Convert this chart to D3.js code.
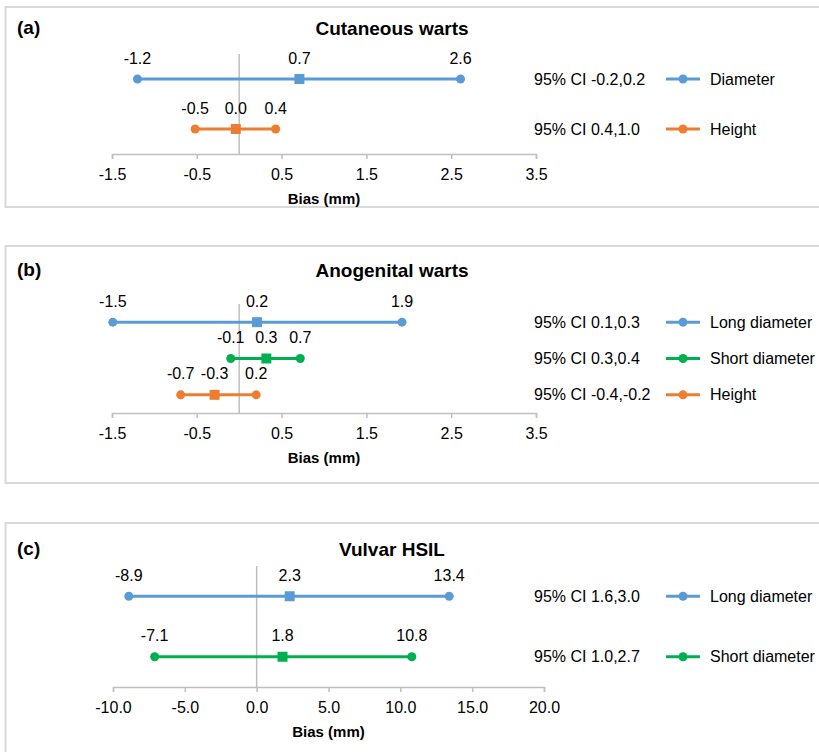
<!DOCTYPE html>
<html>
<head>
<meta charset="utf-8">
<script src="https://cdn.jsdelivr.net/npm/d3@7"></script>
<style>
  body { margin: 0; background: #fff; }
  text { font-family: "Liberation Sans", Arial, Helvetica, sans-serif; }
</style>
</head>
<body>
<div id="chart"></div>
<script>
// ---- data ----
const letters = ["(a)", "(b)", "(c)"];
const titles = ["Cutaneous warts", "Anogenital warts", "Vulvar HSIL"];

const seriesA = ["Diameter", "Height"];
const lowA = [-1.2, -0.52];
const meanA = [0.71, -0.04];
const highA = [2.61, 0.43];
const ciA = ["95% CI -0.2,0.2", "95% CI 0.4,1.0"];

const seriesB = ["Long diameter", "Short diameter", "Height"];
const lowB = [-1.49, -0.1, -0.69];
const meanB = [0.21, 0.32, -0.29];
const highB = [1.92, 0.72, 0.2];
const ciB = ["95% CI 0.1,0.3", "95% CI 0.3,0.4", "95% CI -0.4,-0.2"];

const seriesC = ["Long diameter", "Short diameter"];
const lowC = [-8.9, -7.1];
const meanC = [2.3, 1.8];
const highC = [13.4, 10.8];
const ciC = ["95% CI 1.6,3.0", "95% CI 1.0,2.7"];

const ticksAB = [-1.5, -0.5, 0.5, 1.5, 2.5, 3.5];
const ticksC = [-10, -5, 0, 5, 10, 15, 20];
const axisTitle = "Bias (mm)";

const colors = { "Diameter": "#5b9bd5", "Long diameter": "#5b9bd5", "Short diameter": "#00b050", "Height": "#ed7d31" };

// ---- layout ----
const width = 819, height = 752;
const fmt = d3.formatLocale({ decimal: ".", thousands: ",", grouping: [3], currency: ["", ""], minus: "-" }).format(".1f");

const panels = [
  { top: 7, bottom: 207, titleY: 27, plotTop: 54, axisY: 154, x0: 112, x1: 536, ticks: ticksAB,
    series: seriesA, low: lowA, mean: meanA, high: highA, ci: ciA },
  { top: 246, bottom: 483, titleY: 269, plotTop: 304, axisY: 413, x0: 112, x1: 536, ticks: ticksAB,
    series: seriesB, low: lowB, mean: meanB, high: highB, ci: ciB },
  { top: 523, bottom: 800, titleY: 548, plotTop: 566, axisY: 687, x0: 113, x1: 544, ticks: ticksC,
    series: seriesC, low: lowC, mean: meanC, high: highC, ci: ciC }
];

const svg = d3.select("#chart").append("svg")
  .attr("width", width)
  .attr("height", height)
  .style("display", "block");

svg.append("rect").attr("width", width).attr("height", height).attr("fill", "#fff");

panels.forEach((p, k) => {
  const g = svg.append("g");

  // panel frame
  g.append("rect")
    .attr("x", 5.5).attr("y", p.top)
    .attr("width", 840).attr("height", p.bottom - p.top)
    .attr("fill", "none").attr("stroke", "#d9d9d9").attr("stroke-width", 2);

  g.append("text")
    .attr("x", 17).attr("y", p.titleY)
    .attr("dominant-baseline", "central")
    .style("font-size", "19px").style("font-weight", "bold")
    .text(letters[k]);

  g.append("text")
    .attr("x", 392).attr("y", p.titleY + 1)
    .attr("dominant-baseline", "central")
    .attr("text-anchor", "middle")
    .style("font-size", "19px").style("font-weight", "bold")
    .text(titles[k]);

  const x = d3.scaleLinear()
    .domain([p.ticks[0], p.ticks[p.ticks.length - 1]])
    .range([p.x0, p.x1]);

  const y = d3.scaleBand()
    .domain(p.series)
    .range([p.plotTop, p.axisY]);
  const yc = s => y(s) + y.bandwidth() / 2;

  // zero line
  g.append("line")
    .attr("x1", x(0)).attr("x2", x(0))
    .attr("y1", p.plotTop).attr("y2", p.axisY)
    .attr("stroke", "#bfbfbf").attr("stroke-width", 1.5);

  // x axis
  const ax = g.append("g")
    .attr("transform", "translate(0," + p.axisY + ")")
    .call(d3.axisBottom(x).tickValues(p.ticks).tickSize(5).tickPadding(10).tickFormat(fmt));
  ax.select(".domain").attr("stroke", "#bfbfbf").attr("stroke-width", 1.5);
  ax.selectAll(".tick line").attr("stroke", "#bfbfbf").attr("stroke-width", 1.5);
  ax.selectAll(".tick text")
    .attr("fill", "#000")
    .style("font-size", "16px")
    .style("font-family", "'Liberation Sans', Arial, Helvetica, sans-serif");

  g.append("text")
    .attr("x", (p.x0 + p.x1) / 2).attr("y", p.axisY + 44)
    .attr("dominant-baseline", "central")
    .attr("text-anchor", "middle")
    .style("font-size", "15px").style("font-weight", "bold")
    .text(axisTitle);

  // series
  p.series.forEach((s, i) => {
    const c = colors[s];
    const yy = yc(s);
    g.append("line")
      .attr("x1", x(p.low[i])).attr("x2", x(p.high[i]))
      .attr("y1", yy).attr("y2", yy)
      .attr("stroke", c).attr("stroke-width", 3);

    [p.low[i], p.high[i]].forEach(v => {
      g.append("circle")
        .attr("cx", x(v)).attr("cy", yy).attr("r", 4.5)
        .attr("fill", c);
    });

    g.append("rect")
      .attr("x", x(p.mean[i]) - 5).attr("y", yy - 5)
      .attr("width", 10).attr("height", 10)
      .attr("fill", c);

    [p.low[i], p.mean[i], p.high[i]].forEach(v => {
      g.append("text")
        .attr("x", x(v)).attr("y", yy - 21)
        .attr("dominant-baseline", "central")
        .attr("text-anchor", "middle")
        .style("font-size", "16px")
        .text(fmt(v));
    });

    // legend entry
    g.append("text")
      .attr("x", 534).attr("y", yy)
      .attr("dominant-baseline", "central")
      .style("font-size", "16px")
      .text(p.ci[i]);
    g.append("line")
      .attr("x1", 666).attr("x2", 700)
      .attr("y1", yy).attr("y2", yy)
      .attr("stroke", c).attr("stroke-width", 3);
    g.append("circle")
      .attr("cx", 683).attr("cy", yy).attr("r", 4.5)
      .attr("fill", c);
    g.append("text")
      .attr("x", 710).attr("y", yy)
      .attr("dominant-baseline", "central")
      .style("font-size", "16px")
      .text(s);
  });
});
</script>
</body>
</html>
